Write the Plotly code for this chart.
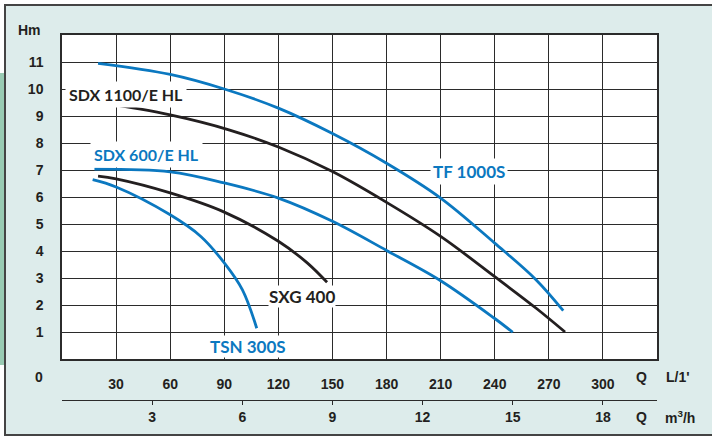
import plotly.graph_objects as go

# ── Data ──────────────────────────────────────────────
# Q in L/min, H in m
tf1000_q = [20, 60, 90, 120, 150, 180, 210, 240, 263, 278]
tf1000_h = [10.95, 10.54, 10.0, 9.29, 8.35, 7.25, 5.96, 4.29, 2.93, 1.79]

sdx1100_q = [20, 60, 93, 120, 150, 180, 210, 240, 263, 279]
sdx1100_h = [9.51, 9.04, 8.48, 7.85, 6.94, 5.8, 4.54, 3.05, 1.88, 1.0]

sdx600_q = [18, 60, 90, 120, 150, 180, 210, 240, 250]
sdx600_h = [7.03, 6.93, 6.52, 5.96, 5.1, 4.02, 2.9, 1.5, 0.99]

sxg400_q = [20, 30, 60, 90, 120, 136, 147]
sxg400_h = [6.77, 6.67, 6.15, 5.44, 4.36, 3.56, 2.84]

tsn300_q = [17, 30, 60, 77, 90, 100, 108]
tsn300_h = [6.64, 6.37, 5.34, 4.54, 3.56, 2.57, 1.14]

q_lmin_ticks = [30, 60, 90, 120, 150, 180, 210, 240, 270, 300]
q_m3h_ticks = [3, 6, 9, 12, 15, 18]
h_ticks = [1, 2, 3, 4, 5, 6, 7, 8, 9, 10, 11]

Q_MAX = 330
LMIN_PER_M3H = 1000 / 60

BLUE = "#0b78c0"
BLACK = "#231f20"
GRID = "#2b2b2b"
BG = "#ddeceb"
GREEN = "#99cbb3"

LABEL_FONT = "Lato, Open Sans, sans-serif"
TICK_FONT = "Liberation Sans Narrow, Liberation Sans, Arial, sans-serif"

# ── Figure ─────────────────────────────────────────────
W, H = 712, 436
ML, MR, MT, MB = 62, 55, 35, 36
plot_h = H - MT - MB
y_dom0 = 41 / plot_h  # main x-axis sits 41 px above the m3/h axis


def px(x):
    return (x - ML) / (W - ML - MR)


def py(y):
    return (H - MB - y) / plot_h


fig = go.Figure()

curves = [
    (tf1000_q, tf1000_h, BLUE),
    (sdx1100_q, sdx1100_h, BLACK),
    (sdx600_q, sdx600_h, BLUE),
    (sxg400_q, sxg400_h, BLACK),
    (tsn300_q, tsn300_h, BLUE),
]
for q, h, c in curves:
    fig.add_trace(go.Scatter(x=q, y=h, mode="lines",
                             line=dict(color=c, width=2.8, shape="spline", smoothing=1.0),
                             hoverinfo="skip", showlegend=False))

# empty trace so the m3/h axis gets drawn
fig.add_trace(go.Scatter(x=[], y=[], xaxis="x2", yaxis="y", mode="lines",
                         hoverinfo="skip", showlegend=False))

# curve labels (white box hides the grid behind them)
labels = [
    ("SDX 1100/E HL", 35.5, 9.79, BLACK, 16, 3),
    ("SDX 600/E HL", 46.6, 7.57, BLUE, 16, 3),
    ("TF 1000S", 226, 6.93, BLUE, 17, 2),
    ("SXG 400", 133, 2.32, BLACK, 17, 0),
    ("TSN 300S", 103.4, 0.47, BLUE, 17, 0),
]
for text, x, y, c, size, pad in labels:
    fig.add_annotation(x=x, y=y, xref="x", yref="y", text=text, showarrow=False,
                       font=dict(family=LABEL_FONT, size=size, color=c, weight="bold"),
                       bgcolor="white", borderpad=pad)

# axis captions
cap_font = dict(family=TICK_FONT, size=14, color=BLACK, weight="bold")
captions = [
    ("Hm", px(43), py(30), "right"),
    ("0", px(45), py(377), "right"),
    ("Q", px(641.7), py(377), "center"),
    ("L/1'", px(678), py(377), "center"),
    ("Q", px(641.7), py(417), "center"),
    ("m<sup>3</sup>/h", px(680), py(417), "center"),
]
for text, x, y, anchor in captions:
    fig.add_annotation(x=x, y=y, xref="paper", yref="paper", text=text, showarrow=False,
                       xanchor=anchor, yanchor="middle", font=cap_font)

# frame, white margins and green strip
P = dict(xref="paper", yref="paper")
shapes = [
    dict(type="rect", x0=px(-10), x1=px(4.5), y0=py(-10), y1=py(446),
         fillcolor="white", line=dict(width=0), layer="below", **P),
    dict(type="rect", x0=px(-10), x1=px(720), y0=py(-10), y1=py(4.5),
         fillcolor="white", line=dict(width=0), layer="below", **P),
    dict(type="rect", x0=px(-10), x1=px(720), y0=py(435.5), y1=py(446),
         fillcolor="white", line=dict(width=0), layer="below", **P),
    dict(type="rect", x0=px(-10), x1=px(4), y0=py(73), y1=py(365),
         fillcolor=GREEN, line=dict(width=0), layer="below", **P),
    dict(type="rect", x0=px(5), x1=px(730), y0=py(5), y1=py(435),
         fillcolor="rgba(0,0,0,0)", line=dict(color="#444444", width=2), layer="above", **P),
]
fig.update_layout(shapes=shapes)

tickfont = dict(family=TICK_FONT, size=14, color=BLACK, weight="bold")

fig.update_layout(
    width=W, height=H,
    margin=dict(l=ML, r=MR, t=MT, b=MB, pad=0),
    paper_bgcolor=BG,
    plot_bgcolor="white",
    showlegend=False,
    xaxis=dict(range=[0, Q_MAX], tickvals=q_lmin_ticks, showgrid=True,
               gridcolor=GRID, gridwidth=1.3, showline=True, mirror=True,
               linecolor=GRID, linewidth=1.5, zeroline=False,
               ticks="outside", ticklen=11, tickcolor="rgba(0,0,0,0)",
               tickfont=tickfont, fixedrange=True),
    yaxis=dict(range=[0, 12], tickvals=h_ticks, domain=[y_dom0, 1], showgrid=True,
               gridcolor=GRID, gridwidth=1.3, showline=True, mirror=True,
               linecolor=GRID, linewidth=1.5, zeroline=False,
               ticks="outside", ticklen=14, tickcolor="rgba(0,0,0,0)",
               tickfont=tickfont, fixedrange=True),
    xaxis2=dict(range=[0, Q_MAX / LMIN_PER_M3H], tickvals=q_m3h_ticks,
                overlaying="x", anchor="free", position=0, side="bottom",
                showgrid=False, zeroline=False, showline=True,
                linecolor=GRID, linewidth=1.3, ticks="outside", ticklen=4,
                tickcolor=GRID, tickwidth=1.3, tickfont=tickfont, fixedrange=True),
)

fig.write_html("out.html", config={"displayModeBar": False},
               post_script="document.body.style.margin='0';")
